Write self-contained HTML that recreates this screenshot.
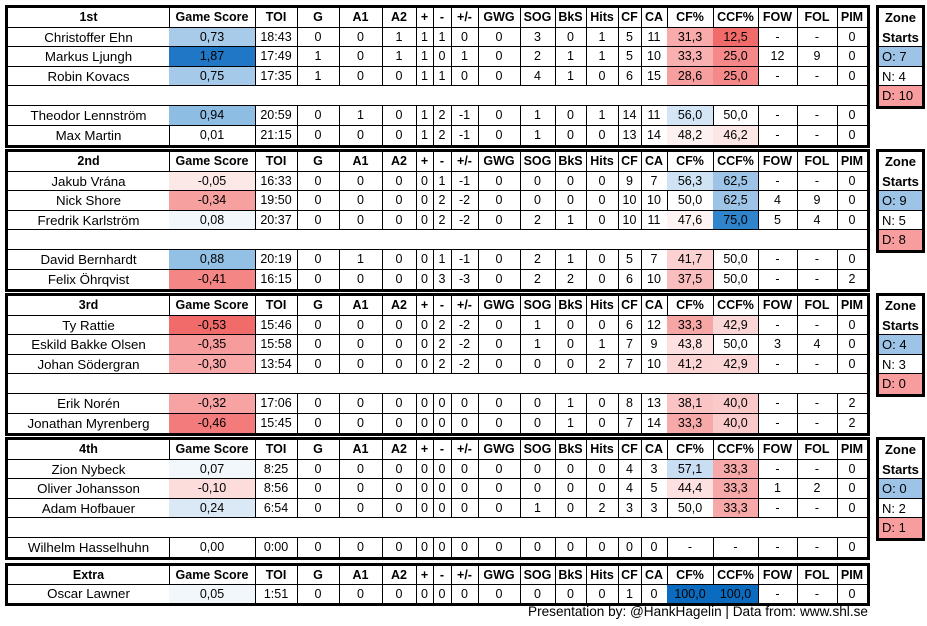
<!DOCTYPE html>
<html><head><meta charset="utf-8">
<style>
html,body{margin:0;padding:0;background:#fff;width:927px;height:626px;overflow:hidden;position:relative;font-family:"Liberation Sans",sans-serif;font-size:12.5px;color:#000}
.c{position:absolute;box-sizing:border-box;border-right:1px solid #000;border-bottom:1px solid #000;text-align:center;white-space:nowrap;overflow:hidden}
.b{position:absolute;box-sizing:border-box;border:3px solid #000}
.h{font-weight:bold}
.n{font-size:13.3px}
#foot{position:absolute;left:528px;top:604px;font-size:13.6px;white-space:nowrap}
</style></head><body>
<div id="root"></div>
<div id="foot">Presentation by: @HankHagelin | Data from: www.shl.se</div>
<script>
const xs=[8,169,255,297,339,382,416,433,451,478,520,555,586,618,641,667,713,758,797,837,867];
const hdr=["","Game Score","TOI","G","A1","A2","+","-","+/-","GWG","SOG","BkS","Hits","CF","CA","CF%","CCF%","FOW","FOL","PIM"];
const blocks=[
{top:5,H:19.6,name:"1st",zone:["O: 7","N: 4","D: 10"],rows:[
["Christoffer Ehn","0,73","18:43","0","0","1","1","1","0","0","3","0","1","5","11","31,3","12,5","-","-","0","#a7cbe9","#f9aaaa","#f26b6b"],
["Markus Ljungh","1,87","17:49","1","0","1","1","0","1","0","2","1","1","5","10","33,3","25,0","12","9","0","#1f77c6","#f9b0b0","#f58888"],
["Robin Kovacs","0,75","17:35","1","0","0","1","1","0","0","4","1","0","6","15","28,6","25,0","-","-","0","#a5cae9","#f79e9e","#f58888"],
null,
["Theodor Lennström","0,94","20:59","0","1","0","1","2","-1","0","1","0","1","14","11","56,0","50,0","-","-","0","#8ebde4","#d4e6f5",""],
["Max Martin","0,01","21:15","0","0","0","1","2","-1","0","1","0","0","13","14","48,2","46,2","-","-","0","","#fdf0f0","#fde6e6"]]},
{top:149,H:19.6,name:"2nd",zone:["O: 9","N: 5","D: 8"],rows:[
["Jakub Vrána","-0,05","16:33","0","0","0","0","1","-1","0","0","0","0","9","7","56,3","62,5","-","-","0","#fde8e8","#cfe3f4","#9dc4e7"],
["Nick Shore","-0,34","19:50","0","0","0","0","2","-2","0","0","0","0","10","10","50,0","62,5","4","9","0","#f7a0a0","","#9dc4e7"],
["Fredrik Karlström","0,08","20:37","0","0","0","0","2","-2","0","2","1","0","10","11","47,6","75,0","5","4","0","#f2f7fc","#fdf3f3","#2f84cc"],
null,
["David Bernhardt","0,88","20:19","0","1","0","0","1","-1","0","2","1","0","5","7","41,7","50,0","-","-","0","#93c0e5","#fbd1d1",""],
["Felix Öhrqvist","-0,41","16:15","0","0","0","0","3","-3","0","2","2","0","6","10","37,5","50,0","-","-","2","#f48686","#f9bdbd",""]]},
{top:293,H:19.6,name:"3rd",zone:["O: 4","N: 3","D: 0"],rows:[
["Ty Rattie","-0,53","15:46","0","0","0","0","2","-2","0","1","0","0","6","12","33,3","42,9","-","-","0","#f26b6b","#f7a6a6","#fbd6d6"],
["Eskild Bakke Olsen","-0,35","15:58","0","0","0","0","2","-2","0","1","0","1","7","9","43,8","50,0","3","4","0","#f79c9c","#fde0e0",""],
["Johan Södergran","-0,30","13:54","0","0","0","0","2","-2","0","0","0","2","7","10","41,2","42,9","-","-","0","#f8a9a9","#fbd4d4","#fbd6d6"],
null,
["Erik Norén","-0,32","17:06","0","0","0","0","0","0","0","0","1","0","8","13","38,1","40,0","-","-","2","#f8a3a3","#fac4c4","#facaca"],
["Jonathan Myrenberg","-0,46","15:45","0","0","0","0","0","0","0","0","1","0","7","14","33,3","40,0","-","-","2","#f37b7b","#f7a9a9","#facaca"]]},
{top:437,H:19.5,name:"4th",zone:["O: 0","N: 2","D: 1"],rows:[
["Zion Nybeck","0,07","8:25","0","0","0","0","0","0","0","0","0","0","4","3","57,1","33,3","-","-","0","#f2f7fc","#c9def2","#f7a9a9"],
["Oliver Johansson","-0,10","8:56","0","0","0","0","0","0","0","0","0","0","4","5","44,4","33,3","1","2","0","#fddcdc","#fde1e1","#f7a9a9"],
["Adam Hofbauer","0,24","6:54","0","0","0","0","0","0","0","1","0","2","3","3","50,0","33,3","-","-","0","#dbe9f6","","#f7a9a9"],
null,
["Wilhelm Hasselhuhn","0,00","0:00","0","0","0","0","0","0","0","0","0","0","0","0","-","-","-","-","0","","",""]]},
{top:563,H:18.5,name:"Extra",zone:null,rows:[
["Oscar Lawner","0,05","1:51","0","0","0","0","0","0","0","0","0","0","1","0","100,0","100,0","-","-","0","#f2f7fc","#0b6bbf","#0b6bbf"]]}
];
let html="";
function cell(x,y,w,h,txt,cls,bg,extra){
  html+=`<div class="c ${cls||""}" style="left:${x}px;top:${y}px;width:${w}px;height:${h}px;line-height:${h}px;${bg?"background:"+bg+";":""}${extra||""}">${txt}</div>`;
}
for(const b of blocks){
  const H=b.H;
  const n=b.rows.length+1;
  const y0=b.top+3;
  html+=`<div class="b" style="left:5px;top:${b.top}px;width:${870-5}px;height:${n*H+6}px"></div>`;
  for(let i=0;i<20;i++){
    const t=i==0?b.name:hdr[i];
    cell(xs[i],y0,xs[i+1]-xs[i]+(i==19?0:1),H,t,"h","",i==19?"border-right:none;":"");
  }
  b.rows.forEach((r,ri)=>{
    const y=y0+(ri+1)*H;
    const last=ri==b.rows.length-1;
    if(!r){cell(xs[0],y,xs[20]-xs[0],H,"","","", "border-right:none;");return;}
    for(let i=0;i<20;i++){
      let bg="";
      if(i==1)bg=r[20]; if(i==15)bg=r[21]; if(i==16)bg=r[22];
      cell(xs[i],y,xs[i+1]-xs[i]+(i==19?0:1),H,r[i],i==0?"n":"",bg,(i==19?"border-right:none;":"")+(last?"border-bottom:none;":""));
    }
  });
  if(b.zone){
    const zx=876,zw=49;
    html+=`<div class="b" style="left:${zx}px;top:${b.top}px;width:${zw}px;height:${5*H+6}px"></div>`;
    const zi=zx+3,ziw=zw-6;
    html+=`<div class="c h" style="left:${zi}px;top:${y0}px;width:${ziw}px;height:${2*H}px;border-right:none;line-height:${H}px;font-size:13px">Zone<br>Starts</div>`;
    const cols=["#9dc3e6","","#f89d9d"];
    b.zone.forEach((z,k)=>{
      cell(zi,y0+(2+k)*H,ziw,H,z,"",cols[k],"border-right:none;text-align:left;padding-left:3px;font-size:13px;"+(k==2?"border-bottom:none;":""));
    });
  }
}
document.getElementById("root").innerHTML=html;
</script>
</body></html>
